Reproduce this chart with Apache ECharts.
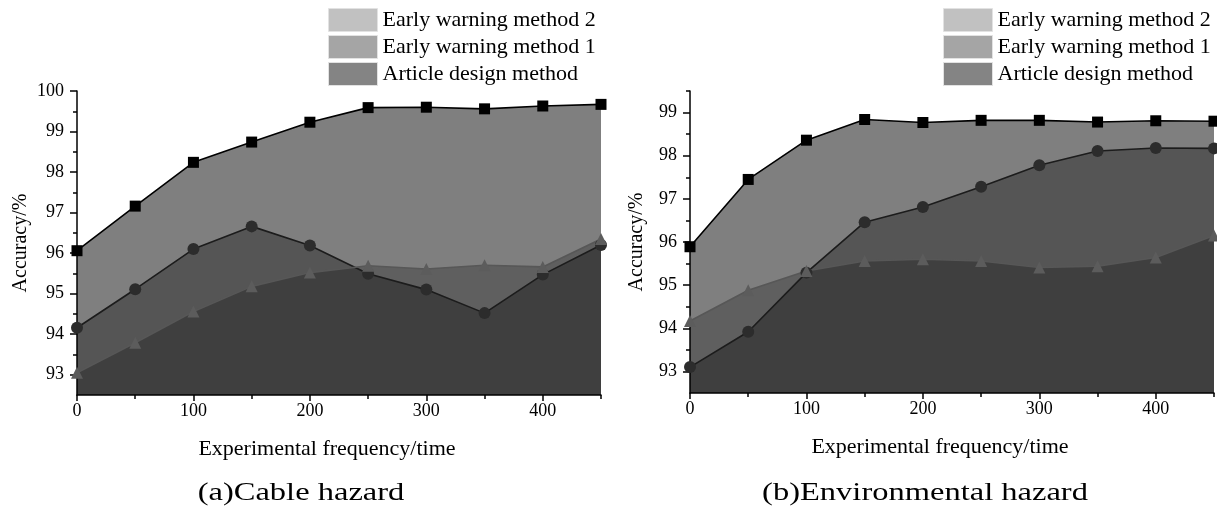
<!DOCTYPE html>
<html><head><meta charset="utf-8">
<script src="https://cdn.jsdelivr.net/npm/echarts@6/dist/echarts.min.js"></script>
<style>html,body{margin:0;padding:0;background:#fff}#c{width:1217px;height:514px}</style>
</head><body><div id="c"></div>
<script>
// ---- data ----
const xValues = [0, 50, 100, 150, 200, 250, 300, 350, 400, 450];
const cableArticle = [96.06, 97.16, 98.24, 98.74, 99.23, 99.59, 99.60, 99.56, 99.63, 99.67];
const cableMethod1 = [94.16, 95.11, 96.10, 96.66, 96.19, 95.49, 95.10, 94.52, 95.47, 96.20];
const cableMethod2 = [93.05, 93.79, 94.56, 95.18, 95.52, 95.69, 95.61, 95.70, 95.66, 96.35];
const envArticle = [95.89, 97.45, 98.36, 98.84, 98.77, 98.82, 98.82, 98.78, 98.81, 98.80];
const envMethod1 = [93.10, 93.92, 95.29, 96.46, 96.81, 97.28, 97.78, 98.11, 98.18, 98.17];
const envMethod2 = [94.17, 94.88, 95.33, 95.56, 95.60, 95.56, 95.41, 95.44, 95.64, 96.15];

const legendNames = ['Early warning method 2', 'Early warning method 1', 'Article design method'];
const subtitles = ['(a)Cable hazard', '(b)Environmental hazard'];
const xAxisName = 'Experimental frequency/time';
const yAxisName = 'Accuracy/%';
const xMajorTicks = [0, 100, 200, 300, 400];
const xMinorTicks = [50, 150, 250, 350, 450];
const yMajorCable = [93, 94, 95, 96, 97, 98, 99, 100];
const yMinorCable = [93.5, 94.5, 95.5, 96.5, 97.5, 98.5, 99.5];
const yMajorEnv = [93, 94, 95, 96, 97, 98, 99];
const yMinorEnv = [93.5, 94.5, 95.5, 96.5, 97.5, 98.5, 99.5];

// ---- styles ----
const FONT = 'Liberation Serif';
const legendColors = ['#c1c1c1', '#a5a5a5', '#848484'];
const seriesStyles = {
  'Article design method': {symbol: 'rect', size: 11, line: '#000', mark: '#000', area: 'rgba(0,0,0,0.5)'},
  'Early warning method 1': {symbol: 'circle', size: 12, line: '#1c1c1c', mark: '#2c2c2c', area: 'rgba(0,0,0,0.33)'},
  'Early warning method 2': {symbol: 'triangle', size: 12, line: '#575757', mark: '#5c5c5c', area: 'rgba(0,0,0,0.25)'}
};

const panels = [
  {grid: {left: 77, top: 91, width: 524, height: 304}, yMin: 92.5, yMax: 100, yMajor: yMajorCable, yMinor: yMinorCable,
   series: [['Article design method', cableArticle], ['Early warning method 1', cableMethod1], ['Early warning method 2', cableMethod2]],
   legendLeft: 323, nameGap: 46, sub: {x: 301, y: 493}},
  {grid: {left: 690, top: 91, width: 524, height: 302}, yMin: 92.5, yMax: 99.5, yMajor: yMajorEnv, yMinor: yMinorEnv,
   series: [['Article design method', envArticle], ['Early warning method 1', envMethod1], ['Early warning method 2', envMethod2]],
   legendLeft: 938, nameGap: 43, sub: {x: 925, y: 493}}
];

const axisLineStyle = {color: '#000', width: 1.5};
const grids = [], xAxes = [], yAxes = [], series = [], legends = [], graphics = [];

panels.forEach((p, g) => {
  grids.push(p.grid);
  const xi = xAxes.length, yi = yAxes.length;
  xAxes.push({
    gridIndex: g, type: 'value', min: 0, max: 450, position: 'bottom',
    axisLine: {show: true, onZero: false, lineStyle: axisLineStyle},
    axisTick: {show: true, customValues: xMajorTicks, length: 6, lineStyle: axisLineStyle},
    axisLabel: {customValues: xMajorTicks, color: '#000', fontFamily: FONT, fontSize: 18, margin: 7},
    splitLine: {show: false},
    name: xAxisName, nameLocation: 'middle', nameGap: 43,
    nameTextStyle: {color: '#000', fontFamily: FONT, fontSize: 22, padding: [0, 24, 0, 0]}
  });
  xAxes.push({
    gridIndex: g, type: 'value', min: 0, max: 450, position: 'bottom',
    axisLine: {show: false, onZero: false},
    axisTick: {show: true, customValues: xMinorTicks, length: 4, lineStyle: axisLineStyle},
    axisLabel: {show: false}, splitLine: {show: false}
  });
  yAxes.push({
    gridIndex: g, type: 'value', min: p.yMin, max: p.yMax, position: 'left',
    axisLine: {show: true, onZero: false, lineStyle: axisLineStyle},
    axisTick: {show: true, customValues: p.yMajor, length: 7, lineStyle: axisLineStyle},
    axisLabel: {customValues: p.yMajor, color: '#000', fontFamily: FONT, fontSize: 18, margin: 13},
    splitLine: {show: false},
    name: yAxisName, nameLocation: 'middle', nameGap: p.nameGap,
    nameTextStyle: {color: '#000', fontFamily: FONT, fontSize: 20}
  });
  yAxes.push({
    gridIndex: g, type: 'value', min: p.yMin, max: p.yMax, position: 'left',
    axisLine: {show: false, onZero: false},
    axisTick: {show: true, customValues: p.yMinor, length: 4, lineStyle: axisLineStyle},
    axisLabel: {show: false}, splitLine: {show: false}
  });
  p.series.forEach(([name, vals]) => {
    const s = seriesStyles[name];
    series.push({
      type: 'line', name, xAxisIndex: xi, yAxisIndex: yi,
      data: xValues.map((x, i) => [x, vals[i]]),
      symbol: s.symbol, symbolSize: s.size, showSymbol: true,
      lineStyle: {color: s.line, width: 1.6},
      itemStyle: {color: s.mark},
      areaStyle: {color: s.area, origin: 'start', opacity: 1},
      emphasis: {disabled: true}
    });
  });
  legends.push({
    orient: 'vertical', left: p.legendLeft, top: 3, icon: 'rect',
    itemWidth: 49, itemHeight: 23, itemGap: 3, selectedMode: false,
    textStyle: {color: '#000', fontFamily: FONT, fontSize: 22, lineHeight: 23},
    data: legendNames.map((n, k) => ({name: n, itemStyle: {color: legendColors[k], borderColor: '#e2e2e2', borderWidth: 1}}))
  });
  graphics.push({
    type: 'text', x: p.sub.x, y: p.sub.y, scaleX: 1.3,
    style: {text: subtitles[g], fontFamily: FONT, fontSize: 25, fill: '#000', align: 'center', verticalAlign: 'middle'}
  });
});

const chart = echarts.init(document.getElementById('c'), null, {renderer: 'canvas'});
chart.setOption({
  backgroundColor: '#fff',
  animation: false,
  grid: grids, xAxis: xAxes, yAxis: yAxes, series, legend: legends, graphic: graphics
});
</script>
</body></html>
